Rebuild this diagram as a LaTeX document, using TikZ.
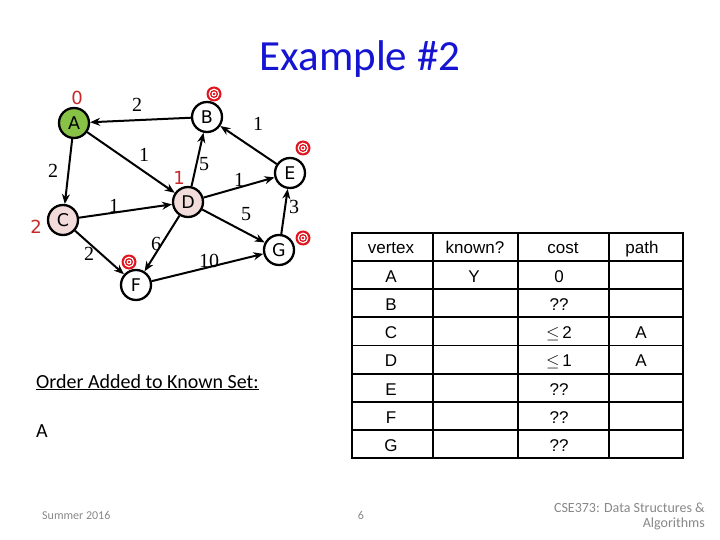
\documentclass[tikz,border=0pt]{standalone}
\usepackage{fontspec}
\setmainfont{Liberation Serif}
\newfontfamily\calib{Carlito}
\newfontfamily\arialf{Liberation Sans}
\newfontfamily\tahomaf{DejaVu Sans}
\usetikzlibrary{arrows.meta}
\definecolor{titleblue}{RGB}{20,20,210}
\definecolor{nodegreen}{RGB}{135,194,70}
\definecolor{nodepink}{RGB}{242,220,219}
\definecolor{lblred}{RGB}{200,40,40}
\definecolor{tgtred}{RGB}{225,20,30}
\definecolor{footgray}{RGB}{135,135,135}
\tikzset{
  vnode/.style={circle,draw=black,line width=2.3pt,minimum size=30pt,inner sep=0pt,fill=white,font=\tahomaf\fontsize{17.5}{17.5}\selectfont},
  edge/.style={line width=2pt,-{Stealth[length=10pt,width=8pt]}},
  wlbl/.style={font=\fontsize{20}{20}\selectfont,inner sep=0pt},
  dlbl/.style={font=\tahomaf\fontsize{18}{18}\selectfont,text=lblred,inner sep=0pt},
  target/.style={circle,fill=tgtred,minimum size=15pt,inner sep=0pt,
    path picture={
      \fill[white] (path picture bounding box.center) circle (5.4pt);
      \fill[tgtred] (path picture bounding box.center) circle (4.0pt);
      \fill[white] (path picture bounding box.center) circle (2.5pt);
      \fill[tgtred] (path picture bounding box.center) circle (1.4pt);
    }},
  cell/.style={font=\arialf\fontsize{17}{17}\selectfont,inner sep=0pt,anchor=base},
  tline/.style={line width=1.8pt,black},
  foot/.style={font=\calib\fontsize{12}{14}\selectfont,text=footgray,inner sep=0pt}
}
\begin{document}
\begin{tikzpicture}[x=1pt,y=-1pt]
\useasboundingbox (0,0) rectangle (720,540);
% title
\node[font=\calib\fontsize{43}{43}\selectfont,text=titleblue,anchor=base,inner sep=0pt] (title) at (360,71) {Example \#2};
% vertices
\node[vnode,fill=nodegreen] (A) at (74,123) {A};
\node[vnode] (B) at (207,117) {B};
\node[vnode] (E) at (290,173) {E};
\node[vnode,fill=nodepink] (D) at (188,202) {D};
\node[vnode,fill=nodepink] (C) at (63,220) {C};
\node[vnode] (G) at (279,250) {G};
\node[vnode] (F) at (136,285) {F};
% edges
\draw[edge] (B) -- (A);
\draw[edge] (A) -- (D);
\draw[edge] (A) -- (C);
\draw[edge] (C) -- (D);
\draw[edge] (C) -- (F);
\draw[edge] (D) -- (B);
\draw[edge] (D) -- (E);
\draw[edge] (D) -- (G);
\draw[edge] (D) -- (F);
\draw[edge] (E) -- (B);
\draw[edge] (G) -- (E);
\draw[edge] (F) -- (G);
% weights
\node[wlbl] (wBA) at (137,105) {2};
\node[wlbl] (wEB) at (258,124) {1};
\node[wlbl] (wAD) at (144,155) {1};
\node[wlbl] (wDB) at (204,164) {5};
\node[wlbl] (wAC) at (53,171) {2};
\node[wlbl] (wDE) at (239,180) {1};
\node[wlbl] (wCD) at (114,206) {1};
\node[wlbl] (wDG) at (246,214) {5};
\node[wlbl] (wGE) at (294,207) {3};
\node[wlbl] (wDF) at (156,244) {6};
\node[wlbl] (wCF) at (89,254) {2};
\node[wlbl] (wFG) at (209,261) {10};
% distance labels
\node[dlbl] (dA) at (77,98) {0};
\node[dlbl] (dD) at (179,178) {1};
\node[dlbl] (dC) at (36,227) {2};
% targets
\node[target] (tB) at (214,94) {};
\node[target] (tE) at (303,148) {};
\node[target] (tG) at (303,238) {};
\node[target] (tF) at (129,262) {};
% table
\draw[tline] (352,233) rectangle (683,458);
\foreach \x in {433,518,609} \draw[tline] (\x,233) -- (\x,458);
\foreach \i in {1,...,7} \draw[tline] (352,{233+28.125*\i}) -- (683,{233+28.125*\i});
\node[cell] (h1) at (391,254) {vertex};
\node[cell] (h2) at (475,254) {known?};
\node[cell] (h3) at (563,254) {cost};
\node[cell] (h4) at (642,254) {path};
\node[cell] (rA) at (391,282) {A};
\node[cell] (kA) at (474,282) {Y};
\node[cell] (cA) at (559,282) {0};
\node[cell] (rB) at (391,310) {B};
\node[cell] (cB) at (559,310) {??};
\node[cell] (rC) at (391,338) {C};
\node[cell] (cC) at (559,338) {$\leq$\,2};
\node[cell] (pC) at (641,338) {A};
\node[cell] (rD) at (391,366) {D};
\node[cell] (cD) at (559,366) {$\leq$\,1};
\node[cell] (pD) at (641,366) {A};
\node[cell] (rE) at (391,395) {E};
\node[cell] (cE) at (559,395) {??};
\node[cell] (rF) at (391,423) {F};
\node[cell] (cF) at (559,423) {??};
\node[cell] (rG) at (391,451) {G};
\node[cell] (cG) at (559,451) {??};
% order text
\node[font=\calib\fontsize{20}{20}\selectfont,anchor=base west,inner sep=0pt] (ord) at (36,388) {\underline{Order Added to Known Set:}};
\node[font=\calib\fontsize{20}{20}\selectfont,anchor=base west,inner sep=0pt] (ordA) at (36,437) {A};
% footer
\node[foot,anchor=base west] (sum) at (42,519) {Summer 2016};
\node[foot,anchor=base] (pg) at (361,519) {6};
\node[foot,anchor=base east,font=\calib\fontsize{14}{15}\selectfont] (cse) at (705,512) {CSE373: Data Structures \&};
\node[foot,anchor=base east,font=\calib\fontsize{14}{15}\selectfont] (alg) at (705,527) {Algorithms};
\end{tikzpicture}
\end{document}
